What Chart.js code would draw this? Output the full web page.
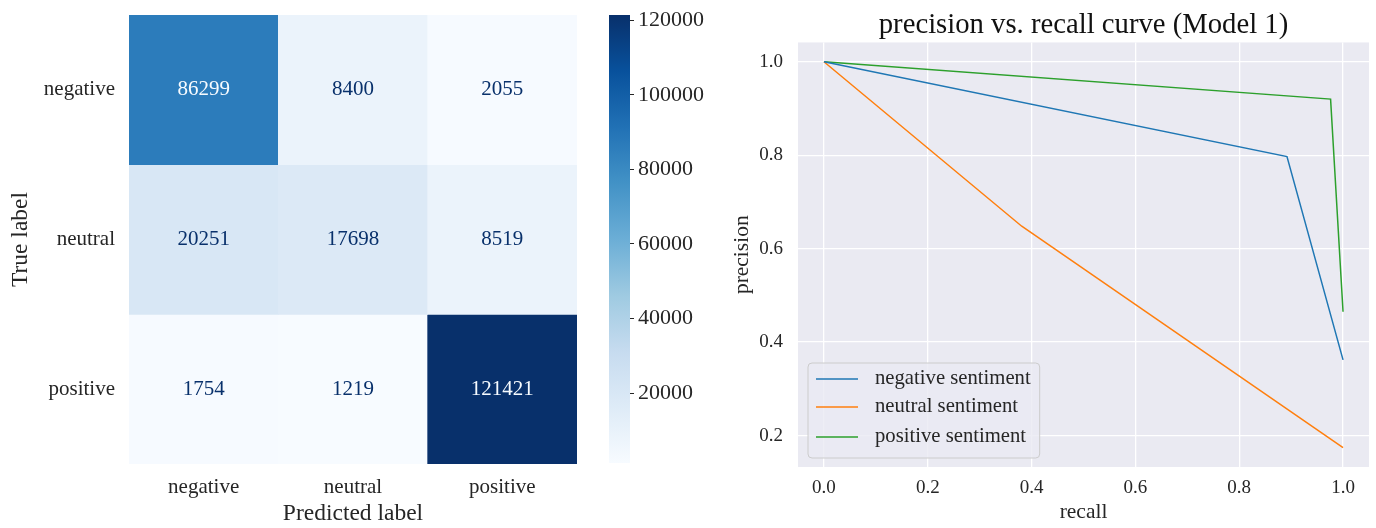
<!DOCTYPE html>
<html><head><meta charset="utf-8">
<script src="https://cdn.jsdelivr.net/npm/chart.js@4.4.1/dist/chart.umd.min.js"></script>
<style>
html,body{margin:0;padding:0;background:#fff;width:1376px;height:528px;overflow:hidden}
canvas{position:absolute;top:0}
#cm{left:0}#cb{left:600px}#pr{left:700px}
</style></head><body>
<canvas id="cm" width="600" height="528"></canvas>
<canvas id="cb" width="140" height="528"></canvas>
<canvas id="pr" width="676" height="528"></canvas>
<script>
// ---- confusion matrix data ----
const predictedLabels = ['negative', 'neutral', 'positive'];
const trueLabels = ['negative', 'neutral', 'positive'];
const rowNegative = [86299, 8400, 2055];
const rowNeutral = [20251, 17698, 8519];
const rowPositive = [1754, 1219, 121421];
const colorbarTicks = [20000, 40000, 60000, 80000, 100000, 120000];

// ---- precision / recall data ----
const prSeriesNames = ['negative sentiment', 'neutral sentiment', 'positive sentiment'];
const recallNegative = [0, 0.892, 1];
const precisionNegative = [1, 0.797, 0.362];
const recallNeutral = [0, 0.381, 1];
const precisionNeutral = [1, 0.648, 0.174];
const recallPositive = [0, 0.976, 1];
const precisionPositive = [1, 0.920, 0.465];
const recallTicks = [0, 0.2, 0.4, 0.6, 0.8, 1.0];
const precisionTicks = [0.2, 0.4, 0.6, 0.8, 1.0];

const FONT = 'Liberation Serif';
const TXT = '#262626';
const BLUES = ['#f7fbff','#deebf7','#c6dbef','#9ecae1','#6baed6','#4292c6','#2171b5','#08519c','#08306b'];
function hex2rgb(h){return [1,3,5].map(i=>parseInt(h.substr(i,2),16));}
function blues(t){
  t = Math.max(0, Math.min(1, t));
  const p = t*(BLUES.length-1); const i = Math.min(Math.floor(p), BLUES.length-2); const f = p-i;
  const a = hex2rgb(BLUES[i]), b = hex2rgb(BLUES[i+1]);
  return 'rgb(' + a.map((v,k)=>Math.round(v+(b[k]-v)*f)).join(',') + ')';
}

const cmRows = [rowNegative, rowNeutral, rowPositive];
const allVals = cmRows.flat();
const vmin = Math.min(...allVals), vmax = Math.max(...allVals);
const thresh = (vmin + vmax) / 2;

const cellText = {
  id: 'cellText',
  afterDatasetsDraw(chart) {
    const ctx = chart.ctx;
    ctx.save();
    ctx.font = '21px "' + FONT + '"';
    ctx.textAlign = 'center';
    ctx.textBaseline = 'middle';
    chart.data.datasets.forEach((ds, di) => {
      chart.getDatasetMeta(di).data.forEach((bar, ci) => {
        const v = ds.cellValues[ci];
        const p = bar.getProps(['x', 'y', 'base'], true);
        ctx.fillStyle = v < thresh ? BLUES[BLUES.length-1] : BLUES[0];
        ctx.fillText(String(v), p.x, (p.y + p.base) / 2);
      });
    });
    ctx.restore();
  }
};

new Chart(document.getElementById('cm'), {
  type: 'bar',
  data: {
    labels: predictedLabels,
    datasets: cmRows.map((row, r) => ({
      label: trueLabels[r],
      data: row.map(() => 1),
      cellValues: row,
      backgroundColor: row.map(v => blues((v - vmin) / (vmax - vmin))),
      borderWidth: 0,
      barPercentage: 1,
      categoryPercentage: 1
    }))
  },
  options: {
    responsive: false, animation: false, devicePixelRatio: 1,
    layout: { padding: { top: 15, right: 23, left: 0, bottom: 0 } },
    plugins: { legend: { display: false }, tooltip: { enabled: false } },
    scales: {
      x: {
        stacked: true,
        grid: { display: false, drawTicks: false }, border: { display: false },
        ticks: { font: { family: FONT, size: 21 }, color: TXT, padding: 11 },
        title: { display: true, text: 'Predicted label', font: { family: FONT, size: 23.5 }, color: TXT, padding: { top: 0, bottom: 0 } },
        afterFit(s) { s.height = 64; s.paddingLeft = 0; s.paddingRight = 0; }
      },
      y: {
        stacked: true, min: 0, max: 3, reverse: true,
        grid: { display: false, drawTicks: false }, border: { display: false },
        afterBuildTicks(s) { s.ticks = trueLabels.map((_, i) => ({ value: i + 0.5 })); },
        ticks: { callback: (v, i) => trueLabels[i], autoSkip: false, font: { family: FONT, size: 21 }, color: TXT, padding: 14 },
        title: { display: true, text: 'True label', font: { family: FONT, size: 23.5 }, color: TXT, padding: { top: 7, bottom: 0 } },
        afterFit(s) { s.width = 129; s.paddingTop = 0; s.paddingBottom = 0; }
      }
    }
  },
  plugins: [cellText]
});

new Chart(document.getElementById('cb'), {
  type: 'bar',
  data: {
    labels: [''],
    datasets: [{
      data: [[vmin, vmax]],
      backgroundColor: (c) => {
        const ch = c.chart; const ys = ch.scales.y;
        if (!ch.chartArea || !ys) return BLUES[0];
        const g = ch.ctx.createLinearGradient(0, ys.getPixelForValue(vmin), 0, ys.getPixelForValue(vmax));
        BLUES.forEach((col, i) => g.addColorStop(i / (BLUES.length - 1), col));
        return g;
      },
      borderWidth: 0, barPercentage: 1, categoryPercentage: 1
    }]
  },
  options: {
    responsive: false, animation: false, devicePixelRatio: 1,
    layout: { padding: { left: 9, top: 15, bottom: 65, right: 0 } },
    plugins: { legend: { display: false }, tooltip: { enabled: false } },
    scales: {
      x: { display: false },
      y: {
        position: 'right', min: vmin, max: vmax,
        afterBuildTicks(s) { s.ticks = colorbarTicks.map(v => ({ value: v })); },
        grid: { drawOnChartArea: false, drawTicks: true, tickLength: 4, color: TXT, lineWidth: 1 },
        border: { display: false },
        ticks: { callback: v => String(v), padding: 4, font: { family: FONT, size: 22 }, color: TXT, autoSkip: false },
        afterFit(s) { s.width = 110; s.paddingTop = 0; s.paddingBottom = 0; }
      }
    }
  }
});

const bgPlugin = {
  id: 'bg',
  beforeDraw(chart) {
    const a = chart.chartArea; const ctx = chart.ctx;
    ctx.save(); ctx.fillStyle = '#eaeaf2';
    ctx.fillRect(a.left, a.top, a.right - a.left, a.bottom - a.top);
    ctx.restore();
  }
};
const legendPlugin = {
  id: 'boxLegend',
  afterDatasetsDraw(chart) {
    const a = chart.chartArea; const ctx = chart.ctx;
    ctx.save();
    ctx.font = '20.7px "' + FONT + '"';
    const ds = chart.data.datasets;
    let tw = 0; ds.forEach(d => { tw = Math.max(tw, ctx.measureText(d.label).width); });
    const w = 67 + tw + 9, h = 95;
    const x0 = a.left + 10, y0 = a.bottom - 9 - h, r = 4;
    ctx.beginPath();
    ctx.moveTo(x0 + r, y0); ctx.lineTo(x0 + w - r, y0); ctx.quadraticCurveTo(x0 + w, y0, x0 + w, y0 + r);
    ctx.lineTo(x0 + w, y0 + h - r); ctx.quadraticCurveTo(x0 + w, y0 + h, x0 + w - r, y0 + h);
    ctx.lineTo(x0 + r, y0 + h); ctx.quadraticCurveTo(x0, y0 + h, x0, y0 + h - r);
    ctx.lineTo(x0, y0 + r); ctx.quadraticCurveTo(x0, y0, x0 + r, y0); ctx.closePath();
    ctx.fillStyle = 'rgba(234,234,242,0.8)'; ctx.fill();
    ctx.strokeStyle = '#cccccc'; ctx.lineWidth = 1; ctx.stroke();
    const rows = [16, 44, 74];
    ds.forEach((d, i) => {
      const y = y0 + rows[i];
      ctx.strokeStyle = d.borderColor; ctx.lineWidth = 1.5;
      ctx.beginPath(); ctx.moveTo(x0 + 8, y); ctx.lineTo(x0 + 50, y); ctx.stroke();
      ctx.fillStyle = TXT; ctx.textAlign = 'left'; ctx.textBaseline = 'middle';
      ctx.fillText(d.label, x0 + 67, y);
    });
    ctx.restore();
  }
};

const prSeries = [
  [recallNegative, precisionNegative, '#1f77b4'],
  [recallNeutral, precisionNeutral, '#ff7f0e'],
  [recallPositive, precisionPositive, '#2ca02c']
];
const allP = prSeries.flatMap(s => s[1]);
const pMin = Math.min(...allP), pMax = Math.max(...allP);
const pPad = (pMax - pMin) * 0.05;

new Chart(document.getElementById('pr'), {
  type: 'line',
  data: {
    datasets: prSeries.map((s, i) => ({
      label: prSeriesNames[i],
      data: s[0].map((x, k) => ({ x: x, y: s[1][k] })),
      borderColor: s[2], backgroundColor: s[2],
      borderWidth: 1.5, pointRadius: 0, fill: false, tension: 0
    }))
  },
  options: {
    responsive: false, animation: false, devicePixelRatio: 1,
    layout: { padding: { top: 0, right: 7, left: 0, bottom: 0 } },
    plugins: {
      legend: { display: false }, tooltip: { enabled: false },
      title: { display: true, text: 'precision vs. recall curve (Model 1)', fullSize: false,
        font: { family: FONT, size: 28.7, weight: 'normal' }, color: '#111', padding: { top: 8, bottom: 0 } }
    },
    scales: {
      x: {
        type: 'linear', min: -0.05, max: 1.05,
        afterBuildTicks(s) { s.ticks = recallTicks.map(v => ({ value: v })); },
        ticks: { callback: v => v.toFixed(1), padding: 10, font: { family: FONT, size: 19 }, color: TXT, autoSkip: false },
        grid: { color: '#ffffff', lineWidth: 1.3, drawTicks: false }, border: { display: false },
        title: { display: true, text: 'recall', font: { family: FONT, size: 21.5 }, color: TXT, padding: { top: 0, bottom: 3 } },
        afterFit(s) { s.height = 61; }
      },
      y: {
        type: 'linear', min: pMin - pPad, max: pMax + pPad,
        afterBuildTicks(s) { s.ticks = precisionTicks.map(v => ({ value: v })); },
        ticks: { callback: v => v.toFixed(1), padding: 15, font: { family: FONT, size: 19 }, color: TXT, autoSkip: false },
        grid: { color: '#ffffff', lineWidth: 1.3, drawTicks: false }, border: { display: false },
        title: { display: true, text: 'precision', font: { family: FONT, size: 21.5 }, color: TXT, padding: { top: 29, bottom: 0 } },
        afterFit(s) { s.width = 98; }
      }
    }
  },
  plugins: [bgPlugin, legendPlugin]
});
</script>
</body></html>
